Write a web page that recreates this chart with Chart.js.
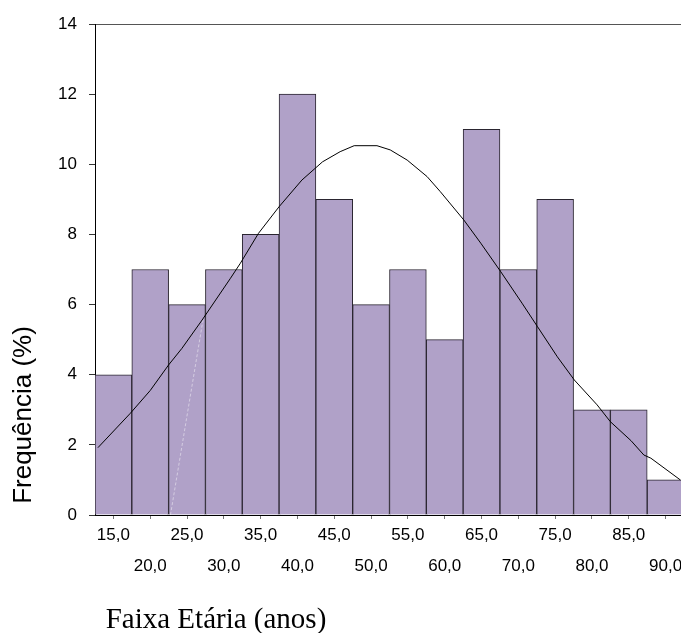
<!DOCTYPE html>
<html>
<head>
<meta charset="utf-8">
<script src="https://cdn.jsdelivr.net/npm/chart.js@4.4.1/dist/chart.umd.min.js"></script>
<style>
html,body{margin:0;padding:0;overflow:hidden;background:#fff;}
#wrap{position:relative;width:685px;height:633px;}
</style>
</head>
<body>
<div id="wrap"><canvas id="c" width="685" height="633"></canvas></div>
<script>
// ---- data ----
const binCenters = [15,20,25,30,35,40,45,50,55,60,65,70,75,80,85,90];
const frequencies = [4,7,6,7,8,12,9,6,7,5,11,7,9,3,3,1];
const xTickValues = [15,20,25,30,35,40,45,50,55,60,65,70,75,80,85,90];
const xTickLabels = ['15,0','20,0','25,0','30,0','35,0','40,0','45,0','50,0','55,0','60,0','65,0','70,0','75,0','80,0','85,0','90,0'];
const yTickValues = [0,2,4,6,8,10,12,14];
const curveX = [12.9,17.3,20,22.5,24.3,27.05,30.9,32.25,34.7,37.5,40.6,43.4,45.8,47.7,50.8,52.6,54.9,57.6,59.4,62.6,64.9,67.6,70.5,72.6,75.3,77.6,80.7,82.5,85.3,87.05,88,92.0];
const curveY = [1.92,2.9,3.55,4.28,4.75,5.56,6.75,7.18,8.03,8.79,9.55,10.07,10.36,10.53,10.53,10.41,10.12,9.65,9.22,8.41,7.75,6.94,6.04,5.37,4.51,3.85,3.14,2.66,2.12,1.71,1.62,1.0];
const artifactX = [22.75,27.2];
const artifactY = [0,5.6];
const xTitle = 'Faixa Etária (anos)';
const yTitle = 'Frequência (%)';

const titlesPlugin = {
  id: 'titles',
  afterDraw(chart) {
    const ctx = chart.ctx;
    ctx.save();
    ctx.fillStyle = '#000';
    ctx.font = '26px "Liberation Sans", Arial, sans-serif';
    ctx.textAlign = 'center';
    ctx.textBaseline = 'middle';
    ctx.translate(24, 415);
    ctx.rotate(-Math.PI / 2);
    ctx.fillText(yTitle, 0, 0);
    ctx.restore();
    ctx.save();
    ctx.fillStyle = '#000';
    ctx.font = '29px "Liberation Serif", "Times New Roman", serif';
    ctx.textAlign = 'center';
    ctx.textBaseline = 'alphabetic';
    ctx.fillText(xTitle, 216, 628);
    ctx.restore();
  }
};

new Chart(document.getElementById('c'), {
  type: 'bar',
  data: {
    datasets: [
      {
        type: 'line',
        data: curveX.map((x, i) => ({x: x, y: curveY[i]})),
        borderColor: '#000',
        borderWidth: 1,
        pointRadius: 0,
        tension: 0,
        fill: false,
        order: 0
      },
      {
        type: 'line',
        data: artifactX.map((x, i) => ({x: x, y: artifactY[i]})),
        borderColor: 'rgba(255,255,255,0.45)',
        borderWidth: 1,
        borderDash: [3, 2],
        pointRadius: 0,
        fill: false,
        order: 1
      },
      {
        type: 'bar',
        data: binCenters.map((x, i) => ({x: x, y: frequencies[i]})),
        backgroundColor: '#B0A1C8',
        borderColor: '#2a2530',
        borderWidth: 1,
        borderSkipped: 'start',
        barPercentage: 1,
        categoryPercentage: 1,
        order: 2
      }
    ]
  },
  options: {
    responsive: false,
    devicePixelRatio: 1,
    animation: false,
    layout: {padding: {top: 24, right: 1, left: 0, bottom: 0}},
    plugins: {legend: {display: false}, tooltip: {enabled: false}},
    scales: {
      x: {
        type: 'linear',
        min: 12.5,
        max: 92.5,
        offset: false,
        afterFit(scale) { scale.height = 118; },
        afterBuildTicks(scale) { scale.ticks = xTickValues.map(v => ({value: v})); },
        grid: {display: true, drawOnChartArea: false, drawTicks: true, tickLength: 4, tickColor: '#777', offset: false},
        border: {display: true, color: '#000', width: 1},
        ticks: {
          autoSkip: false,
          maxRotation: 0,
          minRotation: 0,
          padding: 1,
          color: '#000',
          font: {family: '"Liberation Sans", Arial, sans-serif', size: 17, lineHeight: 1.82},
          callback(value) {
            const i = xTickValues.indexOf(value);
            if (i < 0) return '';
            return i % 2 === 0 ? [xTickLabels[i], ''] : ['', xTickLabels[i]];
          }
        }
      },
      y: {
        min: 0,
        max: 14,
        afterFit(scale) { scale.width = 95; },
        afterBuildTicks(scale) { scale.ticks = yTickValues.map(v => ({value: v})); },
        grid: {
          display: true,
          drawOnChartArea: true,
          drawTicks: true,
          tickLength: 6,
          tickColor: '#333',
          color(ctx) { return ctx.tick && ctx.tick.value === 14 ? '#555' : 'rgba(0,0,0,0)'; }
        },
        border: {display: true, color: '#000', width: 1},
        ticks: {
          padding: 12,
          color: '#000',
          font: {family: '"Liberation Sans", Arial, sans-serif', size: 17},
          callback(value) { return String(value); }
        }
      }
    }
  },
  plugins: [titlesPlugin]
});
</script>
</body>
</html>
